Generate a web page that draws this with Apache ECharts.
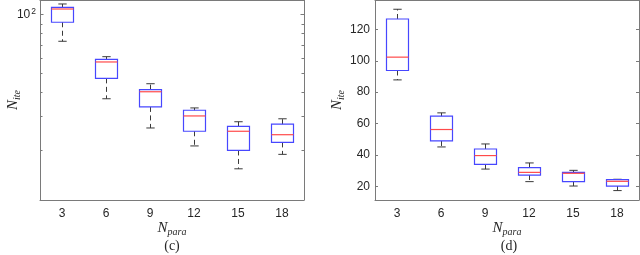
<!DOCTYPE html>
<html><head><meta charset="utf-8">
<script src="https://cdn.jsdelivr.net/npm/echarts@6/dist/echarts.min.js"></script>
<style>html,body{margin:0;padding:0;background:#fff}#c{width:640px;height:255px}</style>
</head><body><div id="c"></div>
<script>
const categories = ['3', '6', '9', '12', '15', '18'];
// panel (c): logarithmic y axis
const cLower  = [72.9, 36.8, 26.0, 21.0, 16.0, 19.0];
const cQ1     = [91.4, 46.9, 33.4, 25.0, 19.9, 21.9];
const cMedian = [107.0, 57.0, 40.0, 30.0, 25.0, 24.0];
const cQ3     = [109.2, 58.8, 41.0, 32.1, 26.5, 27.2];
const cUpper  = [113.6, 60.7, 44.0, 33.0, 28.0, 29.0];
const cMinorTicks = [20, 30, 40, 50, 60, 70, 80, 90];
const cRange = [11.04, 119.1];
// panel (d): linear y axis
const dLower  = [87.8, 45.1, 31.0, 23.0, 20.2, 17.3];
const dQ1     = [93.8, 48.9, 34.0, 27.2, 23.0, 20.2];
const dMedian = [102.3, 56.2, 39.6, 28.9, 28.3, 23.2];
const dQ3     = [126.6, 64.7, 43.8, 31.9, 28.9, 24.3];
const dUpper  = [132.8, 66.8, 47.0, 34.9, 30.2, 24.5];
const dRange = [11.3, 138.7];

const frame = '#7a7a7a';
const txt = '#262626';
const serif = '"Liberation Serif","Times New Roman",serif';
const sans = '"Liberation Sans",Arial,Helvetica,sans-serif';

function rows(lo, q1, med, q3, hi) {
  return categories.map((c, i) => [i, lo[i], q1[i], med[i], q3[i], hi[i]]);
}

function boxRender(params, api) {
  const cs = params.coordSys;
  const cat = cs.width / categories.length;
  const bw = cat * 0.5, cw = cat * 0.19;
  const i = api.value(0);
  const pLo = api.coord([i, api.value(1)]);
  const pQ1 = api.coord([i, api.value(2)]);
  const pMed = api.coord([i, api.value(3)]);
  const pQ3 = api.coord([i, api.value(4)]);
  const pHi = api.coord([i, api.value(5)]);
  const x = Math.round(pMed[0]) + 0.5;
  const dash = { stroke: '#3a3a3a', lineWidth: 1, lineDash: [5, 3.5] };
  const solid = { stroke: '#3a3a3a', lineWidth: 1 };
  return { type: 'group', children: [
    { type: 'line', shape: { x1: x, y1: pQ3[1], x2: x, y2: pHi[1] }, style: dash },
    { type: 'line', shape: { x1: x, y1: pQ1[1], x2: x, y2: pLo[1] }, style: dash },
    { type: 'line', shape: { x1: x - cw / 2, y1: pHi[1], x2: x + cw / 2, y2: pHi[1] }, style: solid },
    { type: 'line', shape: { x1: x - cw / 2, y1: pLo[1], x2: x + cw / 2, y2: pLo[1] }, style: solid },
    { type: 'rect', shape: { x: x - bw / 2, y: pQ3[1], width: bw, height: pQ1[1] - pQ3[1] },
      style: { fill: 'none', stroke: '#4747ff', lineWidth: 1.2 } },
    { type: 'line', shape: { x1: x - bw / 2, y1: pMed[1], x2: x + bw / 2, y2: pMed[1] },
      style: { stroke: '#ff4a4a', lineWidth: 1.2 } }
  ]};
}

function minorTickRender(params, api) {
  const cs = params.coordSys;
  const y = Math.round(api.coord([0, api.value(1)])[1]) + 0.5;
  const st = { stroke: frame, lineWidth: 1 };
  return { type: 'group', children: [
    { type: 'line', shape: { x1: cs.x, y1: y, x2: cs.x + 2.5, y2: y }, style: st },
    { type: 'line', shape: { x1: cs.x + cs.width - 2.5, y1: y, x2: cs.x + cs.width, y2: y }, style: st }
  ]};
}

const nameStyle = {
  fontFamily: serif, fontStyle: 'italic', fontSize: 15, color: txt,
  rich: {
    n: { fontFamily: serif, fontStyle: 'italic', fontSize: 15, color: txt },
    sub: { fontFamily: serif, fontStyle: 'italic', fontSize: 10, color: txt, padding: [8, 0, 0, 0] }
  }
};

function xAxes(g) {
  return [
    { gridIndex: g, type: 'category', data: categories, position: 'bottom', boundaryGap: true,
      axisLine: { lineStyle: { color: frame, width: 1 } },
      axisTick: { inside: true, alignWithLabel: true, length: 3, lineStyle: { color: frame } },
      axisLabel: { color: txt, fontSize: 12, fontFamily: sans, margin: 8 },
      name: '{n|N}{sub|para}', nameLocation: 'middle', nameGap: 19, nameMoveOverlap: false, nameTextStyle: nameStyle },
    { gridIndex: g, type: 'category', data: categories, position: 'top', boundaryGap: true,
      axisLine: { lineStyle: { color: frame, width: 1 } },
      axisTick: { inside: true, alignWithLabel: true, length: 3, lineStyle: { color: frame } },
      axisLabel: { show: false } }
  ];
}

const option = {
  backgroundColor: '#fff',
  animation: false,
  grid: [
    { left: 40, top: 0, width: 264, height: 200, containLabel: false, outerBoundsMode: 'none' },
    { left: 375, top: 0, width: 264, height: 200, containLabel: false, outerBoundsMode: 'none' }
  ],
  xAxis: [...xAxes(0), ...xAxes(1)],
  yAxis: [
    { gridIndex: 0, type: 'log', logBase: 10, min: cRange[0], max: cRange[1], position: 'left',
      axisLine: { show: true, lineStyle: { color: frame } },
      axisTick: { show: true, inside: true, length: 3.5, lineStyle: { color: frame } },
      splitLine: { show: false },
      axisLabel: { color: txt, fontSize: 12, fontFamily: sans, margin: 4, showMinLabel: false, showMaxLabel: false,
        formatter: v => Math.abs(v - 100) < 1e-6 ? '10{s|2}' : '',
        rich: { s: { fontSize: 8.5, fontFamily: sans, color: txt, padding: [0, 0, 7, 1] } } },
      name: '{n|N}{sub|ite}', nameLocation: 'middle', nameGap: 18, nameRotate: 90, nameMoveOverlap: false,
      nameTextStyle: nameStyle },
    { gridIndex: 0, type: 'log', logBase: 10, min: cRange[0], max: cRange[1], position: 'right',
      axisLine: { show: true, lineStyle: { color: frame } },
      axisTick: { show: true, inside: true, length: 3.5, lineStyle: { color: frame } },
      splitLine: { show: false }, axisLabel: { show: false } },
    { gridIndex: 1, type: 'value', min: dRange[0], max: dRange[1], splitNumber: 6, position: 'left',
      axisLine: { show: true, lineStyle: { color: frame } },
      axisTick: { show: true, inside: true, length: 3, lineStyle: { color: frame } },
      splitLine: { show: false },
      axisLabel: { color: txt, fontSize: 12, fontFamily: sans, margin: 5, showMinLabel: false, showMaxLabel: false },
      name: '{n|N}{sub|ite}', nameLocation: 'middle', nameGap: 29, nameRotate: 90, nameMoveOverlap: false,
      nameTextStyle: nameStyle },
    { gridIndex: 1, type: 'value', min: dRange[0], max: dRange[1], splitNumber: 6, position: 'right',
      axisLine: { show: true, lineStyle: { color: frame } },
      axisTick: { show: true, inside: true, length: 3, lineStyle: { color: frame } },
      splitLine: { show: false }, axisLabel: { show: false } }
  ],
  graphic: [
    { type: 'text', x: 172, y: 246, style: { text: '(c)', align: 'center', verticalAlign: 'middle',
      textAlign: 'center', textVerticalAlign: 'middle', fontSize: 14, fontFamily: serif, fill: txt } },
    { type: 'text', x: 509, y: 246, style: { text: '(d)', align: 'center', verticalAlign: 'middle',
      textAlign: 'center', textVerticalAlign: 'middle', fontSize: 14, fontFamily: serif, fill: txt } }
  ],
  series: [
    { type: 'custom', xAxisIndex: 0, yAxisIndex: 0, renderItem: boxRender,
      encode: { x: 0, y: [1, 2, 3, 4, 5] }, data: rows(cLower, cQ1, cMedian, cQ3, cUpper) },
    { type: 'custom', xAxisIndex: 0, yAxisIndex: 0, renderItem: minorTickRender, clip: false,
      encode: { x: 0, y: 1 }, data: cMinorTicks.map(v => [0, v]) },
    { type: 'custom', xAxisIndex: 2, yAxisIndex: 2, renderItem: boxRender,
      encode: { x: 0, y: [1, 2, 3, 4, 5] }, data: rows(dLower, dQ1, dMedian, dQ3, dUpper) }
  ]
};
const chart = echarts.init(document.getElementById('c'), null, { renderer: 'canvas' });
chart.setOption(option);
</script></body></html>
